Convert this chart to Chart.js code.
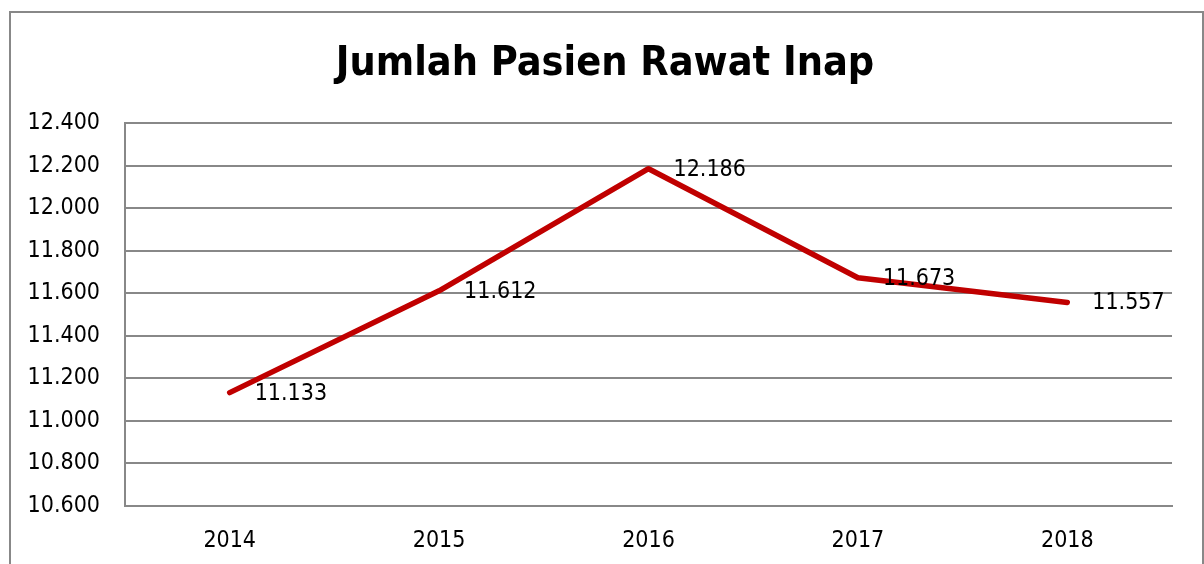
<!DOCTYPE html>
<html>
<head>
<meta charset="utf-8">
<script src="https://cdn.jsdelivr.net/npm/chart.js@4.4.1/dist/chart.umd.min.js"></script>
<style>
  html, body { margin: 0; padding: 0; background: #fff; }
  #wrap { position: relative; width: 1204px; height: 564px; overflow: hidden; }
  #frame {
    position: absolute; left: 9px; top: 11px; width: 1191px; height: 600px;
    border: 2px solid #888;
  }
  canvas { position: absolute; left: 0; top: 0; }
</style>
</head>
<body>
<div id="wrap">
  <div id="frame"></div>
  <canvas id="chart" width="1204" height="564"></canvas>
</div>
<script>
// Data
const years = ['2014', '2015', '2016', '2017', '2018'];
const pasien = [11133, 11612, 12186, 11673, 11557];
const yMin = 10600;
const yMax = 12400;
const yStep = 200;

const fontFam = "'Liberation Sans Narrow', 'Arial Narrow', 'DejaVu Sans Condensed', sans-serif";

// Format angka pakai titik ribuan
function fmt(v) {
  return String(v).replace(/\B(?=(\d{3})+(?!\d))/g, '.');
}

// Label nilai di kanan titik
const valueLabels = {
  id: 'valueLabels',
  afterDatasetsDraw(chart) {
    const ctx = chart.ctx;
    const meta = chart.getDatasetMeta(0);
    ctx.save();
    ctx.font = '23px ' + fontFam;
    ctx.fillStyle = '#000';
    ctx.textAlign = 'left';
    ctx.textBaseline = 'middle';
    meta.data.forEach((pt, i) => {
      ctx.fillText(fmt(pasien[i]), pt.x + 25, pt.y + 1);
    });
    ctx.restore();
  }
};

new Chart(document.getElementById('chart'), {
  type: 'line',
  data: {
    labels: years,
    datasets: [{
      data: pasien,
      borderColor: '#C00000',
      borderWidth: 5.5,
      borderCapStyle: 'round',
      borderJoinStyle: 'round',
      pointRadius: 0,
      tension: 0,
      fill: false
    }]
  },
  options: {
    responsive: false,
    animation: false,
    layout: { padding: { left: 10, right: 4, top: 0, bottom: 0 } },
    plugins: {
      legend: { display: false },
      tooltip: { enabled: false },
      title: {
        display: true,
        text: 'Jumlah Pasien Rawat Inap',
        color: '#000',
        font: { family: fontFam, size: 41, weight: 'bold' },
        padding: { top: 40, bottom: 34 }
      }
    },
    scales: {
      x: {
        offset: true,
        grid: { display: false, drawTicks: false },
        border: { display: true, color: '#888', width: 2 },
        ticks: { color: '#000', font: { family: fontFam, size: 23 }, padding: 21, maxRotation: 0 },
        afterFit(s) { s.height = 58; }
      },
      y: {
        min: yMin,
        max: yMax,
        ticks: {
          stepSize: yStep,
          color: '#000',
          font: { family: fontFam, size: 23 },
          padding: 25,
          callback: v => fmt(v)
        },
        grid: { color: '#888', lineWidth: 2, drawTicks: false },
        border: { display: true, color: '#888', width: 2 },
        afterFit(s) { s.width = 115; }
      },
      y2: {
        position: 'right',
        display: true,
        ticks: { display: false },
        grid: { display: false, drawTicks: false },
        border: { display: false },
        afterFit(s) { s.width = 28; }
      }
    }
  },
  plugins: [valueLabels]
});
</script>
</body>
</html>
